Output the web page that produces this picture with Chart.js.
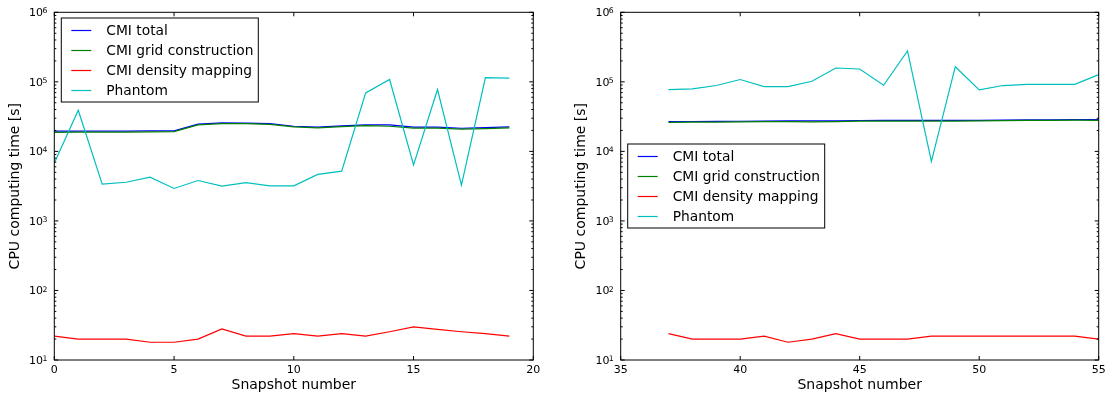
<!DOCTYPE html>
<html>
<head>
<meta charset="utf-8">
<script src="https://cdn.jsdelivr.net/npm/chart.js@4.4.0/dist/chart.umd.min.js"></script>
<style>
  html, body { margin: 0; padding: 0; background: #fff; }
  #wrap { position: relative; width: 1106px; height: 398px; overflow: hidden; background: #fff; }
  #cpuLeft { position: absolute; left: 0; top: 0; }
  #cpuRight { position: absolute; left: 566px; top: 0; }
</style>
</head>
<body>
<div id="wrap">
  <canvas id="cpuLeft" width="553" height="398"></canvas>
  <canvas id="cpuRight" width="540" height="398"></canvas>
</div>
<script>
// Series labels (legend order)
const seriesLabels = ['CMI total', 'CMI grid construction', 'CMI density mapping', 'Phantom'];

// Early snapshots: CPU time per snapshot [s]
const snapshotsA = [0, 1, 2, 3, 4, 5, 6, 7, 8, 9, 10, 11, 12, 13, 14, 15, 16, 17, 18, 19];
const cmiTotalA   = [19500, 19500, 19500, 19500, 19700, 19700, 24600, 25700, 25500, 25100, 23000, 22300, 23300, 24100, 24100, 22300, 22300, 21500, 22000, 22500];
const cmiGridA    = [18800, 18900, 18900, 18900, 19100, 19200, 24000, 25000, 25000, 24500, 22500, 21800, 22700, 23400, 23000, 21600, 21600, 20900, 21300, 21800];
const cmiDensityA = [22, 20, 20, 20, 18, 18, 20, 28, 22, 22, 24, 22, 24, 22, 25.5, 30, 27.5, 25.5, 24, 22];
const phantomA    = [6800, 39000, 3380, 3600, 4250, 2930, 3810, 3160, 3550, 3190, 3190, 4660, 5200, 69300, 108000, 6400, 77500, 3270, 115000, 113000];

// Late snapshots
const snapshotsB = [37, 38, 39, 40, 41, 42, 43, 44, 45, 46, 47, 48, 49, 50, 51, 52, 53, 54, 55];
const cmiTotalB   = [26800, 26900, 27000, 27100, 27300, 27400, 27400, 27500, 27800, 27900, 27900, 27900, 27900, 28000, 28200, 28400, 28500, 28700, 28600];
const cmiGridB    = [26200, 26300, 26400, 26500, 26700, 26700, 26600, 26800, 27200, 27300, 27300, 27300, 27300, 27500, 27700, 27900, 28000, 28200, 28000];
const cmiDensityB = [24, 20, 20, 20, 22, 18, 20, 24, 20, 20, 20, 22, 22, 22, 22, 22, 22, 22, 20];
const phantomB    = [77400, 79000, 88500, 108000, 85500, 85500, 102000, 158000, 153000, 89300, 278000, 7200, 165000, 76500, 88500, 92000, 92000, 92000, 127000];

// Axis ticks
const xTicksA = [0, 5, 10, 15, 20];
const xTicksB = [35, 40, 45, 50, 55];
const yDecades = [1, 2, 3, 4, 5, 6];

const FONT = "'DejaVu Sans', 'Bitstream Vera Sans', sans-serif";
const colors = ['#0000ff', '#008000', '#ff0000', '#00bfbf'];
const drawOrder = [3, 1, 2, 0];

// Frame, inward ticks, tick labels and the in-axes legend
const axesDecor = {
  id: 'axesDecor',
  afterDraw(chart, args, opts) {
    const ctx = chart.ctx;
    const a = chart.chartArea;
    const xs = chart.scales.x, ys = chart.scales.y;
    ctx.save();
    ctx.strokeStyle = '#000';
    ctx.lineWidth = 1;
    ctx.strokeRect(a.left, a.top, a.right - a.left, a.bottom - a.top);

    ctx.beginPath();
    // x major ticks, bottom and top, pointing inward
    opts.xTicks.forEach(v => {
      const px = xs.getPixelForValue(v);
      ctx.moveTo(px, a.bottom); ctx.lineTo(px, a.bottom - 4);
      ctx.moveTo(px, a.top); ctx.lineTo(px, a.top + 4);
    });
    // y major and minor ticks, left and right
    opts.yDecades.forEach(k => {
      const py = ys.getPixelForValue(Math.pow(10, k));
      ctx.moveTo(a.left, py); ctx.lineTo(a.left + 4, py);
      ctx.moveTo(a.right, py); ctx.lineTo(a.right - 4, py);
      if (k < opts.yDecades[opts.yDecades.length - 1]) {
        for (let m = 2; m <= 9; m++) {
          const pm = ys.getPixelForValue(m * Math.pow(10, k));
          ctx.moveTo(a.left, pm); ctx.lineTo(a.left + 2, pm);
          ctx.moveTo(a.right, pm); ctx.lineTo(a.right - 2, pm);
        }
      }
    });
    ctx.stroke();

    // tick labels
    ctx.fillStyle = '#000';
    ctx.textBaseline = 'alphabetic';
    ctx.font = '11px ' + FONT;
    ctx.textAlign = 'center';
    opts.xTicks.forEach(v => {
      ctx.fillText(String(v), xs.getPixelForValue(v), a.bottom + 13.3);
    });
    opts.yDecades.forEach(k => {
      const py = ys.getPixelForValue(Math.pow(10, k));
      const ex = String(k);
      ctx.font = '7.7px ' + FONT;
      ctx.textAlign = 'right';
      const expRight = a.left - 7;
      const expW = ctx.measureText(ex).width;
      ctx.fillText(ex, expRight, py + 1.1);
      ctx.font = '11px ' + FONT;
      ctx.fillText('10', expRight - expW + 0.6, py + 3.9);
    });

    // legend
    const lg = opts.legend;
    const lx = a.left + 7, ly = lg.top;
    ctx.fillStyle = '#fff';
    ctx.fillRect(lx, ly, 197, 84);
    ctx.strokeStyle = '#000';
    ctx.lineWidth = 1;
    ctx.strokeRect(lx, ly, 197, 84);
    ctx.font = '13.8px ' + FONT;
    ctx.textAlign = 'left';
    ctx.textBaseline = 'middle';
    chart.data.datasets.forEach((ds, i) => {
      const cy = ly + 12.5 + i * 20;
      ctx.strokeStyle = ds.borderColor;
      ctx.lineWidth = ds.borderWidth;
      ctx.beginPath();
      ctx.moveTo(lx + 10, cy); ctx.lineTo(lx + 30, cy);
      ctx.stroke();
      ctx.fillStyle = '#000';
      ctx.fillText(ds.label, lx + 45, cy + 0.5);
    });
    ctx.restore();
  }
};

function buildChart(canvasId, xs, series, xMin, xMax, xTicks, geom) {
  const datasets = series.map((vals, i) => ({
    label: seriesLabels[i],
    data: xs.map((x, j) => ({ x: x, y: vals[j] })),
    borderColor: colors[i],
    backgroundColor: colors[i],
    borderWidth: 1.2,
    pointRadius: 0,
    fill: false,
    tension: 0,
    order: drawOrder[i]
  }));
  return new Chart(document.getElementById(canvasId), {
    type: 'line',
    data: { datasets },
    options: {
      responsive: false,
      animation: false,
      events: [],
      layout: { padding: { left: 0, top: 12.3, right: geom.padRight, bottom: 0 } },
      scales: {
        x: {
          type: 'linear', min: xMin, max: xMax,
          ticks: { display: false, stepSize: 5 },
          grid: { display: false, drawTicks: false },
          border: { display: false },
          title: { display: true, text: 'Snapshot number', color: '#000',
                   font: { family: FONT, size: 14 }, padding: { top: 0, bottom: 4.6 } },
          afterFit(s) { s.height = 38; }
        },
        y: {
          type: 'logarithmic', min: 10, max: 1e6,
          ticks: { display: false },
          grid: { display: false, drawTicks: false },
          border: { display: false },
          title: { display: true, text: 'CPU computing time [s]', color: '#000',
                   font: { family: FONT, size: 14 }, padding: { top: 6.6, bottom: 0 } },
          afterFit(s) { s.width = geom.axisLeft; }
        }
      },
      plugins: {
        legend: { display: false },
        tooltip: { enabled: false },
        axesDecor: { xTicks: xTicks, yDecades: yDecades, legend: { top: geom.legendTop } }
      }
    },
    plugins: [axesDecor]
  });
}

buildChart('cpuLeft', snapshotsA, [cmiTotalA, cmiGridA, cmiDensityA, phantomA], 0, 20, xTicksA,
  { axisLeft: 54.3, padRight: 19.7, legendTop: 18 });
buildChart('cpuRight', snapshotsB, [cmiTotalB, cmiGridB, cmiDensityB, phantomB], 35, 55, xTicksB,
  { axisLeft: 54.7, padRight: 7.3, legendTop: 144 });
</script>
</body>
</html>
